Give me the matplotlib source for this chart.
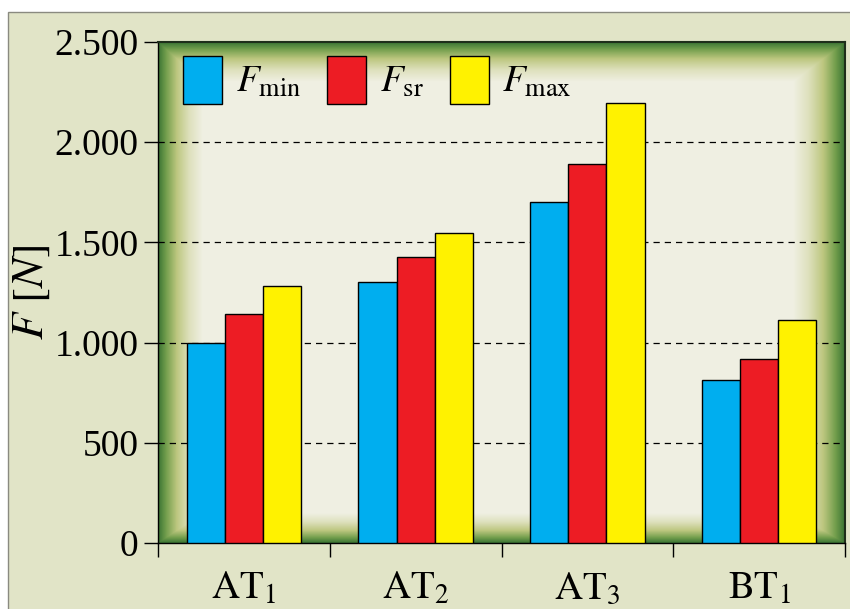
import numpy as np
import matplotlib
matplotlib.use("Agg")
import matplotlib.pyplot as plt
from matplotlib.patches import Rectangle
from matplotlib.colors import LinearSegmentedColormap

categories = [r'$\mathrm{AT}_1$', r'$\mathrm{AT}_2$', r'$\mathrm{AT}_3$', r'$\mathrm{BT}_1$']
f_min = [1000, 1302, 1702, 813]
f_sr = [1143, 1427, 1891, 918]
f_max = [1282, 1547, 2196, 1113]
series_labels = [r'$F_{\mathrm{min}}$', r'$F_{\mathrm{sr}}$', r'$F_{\mathrm{max}}$']
colors = ['#00aeef', '#ed1c24', '#fff200']

plt.rcParams['font.family'] = ['Liberation Serif', 'DejaVu Serif']
plt.rcParams['mathtext.fontset'] = 'stix'

fig = plt.figure(figsize=(8.5, 6.09), dpi=100, facecolor='white')
# panel background with thin grey frame
fig.patches.append(Rectangle((8 / 850, -0.01), 1.0, (609 - 12) / 609 + 0.01,
                             transform=fig.transFigure, facecolor='#e1e4c7',
                             edgecolor='#8a8a80', linewidth=1.0, zorder=-10))

ax = fig.add_axes([158 / 850, (609 - 543) / 609, 687 / 850, 501 / 609])
ax.set_facecolor('none')

# green vignette behind the bars
W, H = 687, 501
xx, yy = np.meshgrid(np.arange(W) + 0.5, np.arange(H) + 0.5)
t = np.minimum.reduce([xx / 45, (W - xx) / 52, yy / 40, (H - yy) / 30])
t = np.clip(t, 0, 1)
cmap = LinearSegmentedColormap.from_list('frame', [
    (0.0, (0.22, 0.45, 0.20)),
    (0.18, (0.45, 0.62, 0.30)),
    (0.42, (0.74, 0.78, 0.50)),
    (0.7, (0.87, 0.88, 0.74)),
    (1.0, (0.94, 0.94, 0.89))])
ax.imshow(t, cmap=cmap, vmin=0, vmax=1, extent=[0, 1, 0, 1], origin='upper',
          transform=ax.transAxes, aspect='auto', zorder=0, interpolation='bilinear')

x = np.arange(len(categories))
width = 0.222
for i, (vals, c, lab) in enumerate(zip([f_min, f_sr, f_max], colors, series_labels)):
    ax.bar(x + (i - 1) * width, vals, width, color=c, edgecolor='black',
           linewidth=1.0, label=lab, zorder=3)

ax.set_xlim(-0.5, len(categories) - 0.5)
ax.set_ylim(0, 2500)
ax.set_yticks([0, 500, 1000, 1500, 2000, 2500])
ax.yaxis.set_major_formatter(plt.FuncFormatter(lambda v, _: f'{int(v):,}'.replace(',', '.')))
for yv in [500, 1000, 1500, 2000]:
    ax.axhline(yv, color='black', linestyle=(0, (5, 4)), linewidth=0.9, zorder=2)

ax.set_xticks(np.arange(len(categories) + 1) - 0.5, minor=False)
ax.set_xticklabels([])
ax.set_xticks(x, minor=True)
ax.set_xticklabels(categories, minor=True, fontsize=28)
ax.tick_params(axis='x', which='major', length=10, width=1, direction='out')
ax.tick_params(axis='x', which='minor', length=0, pad=20)
ax.tick_params(axis='y', length=10, width=1, labelsize=27, pad=4)

for s in ['left', 'bottom']:
    ax.spines[s].set_color('black')
    ax.spines[s].set_linewidth(1.0)
for s in ['top', 'right']:
    ax.spines[s].set_color('#1e2e1a')
    ax.spines[s].set_linewidth(1.5)

ax.set_ylabel(r'$F\ [N]$', fontsize=32, labelpad=2)

ax.legend(loc='upper left', bbox_to_anchor=(25 / 687, 1 - 14 / 501), ncol=3, frameon=False,
          fontsize=27, handlelength=1.05, handleheight=1.6, handletextpad=0.35,
          columnspacing=0.7, borderaxespad=0, borderpad=0)

plt.savefig('out.png', dpi=100, facecolor=fig.get_facecolor())
